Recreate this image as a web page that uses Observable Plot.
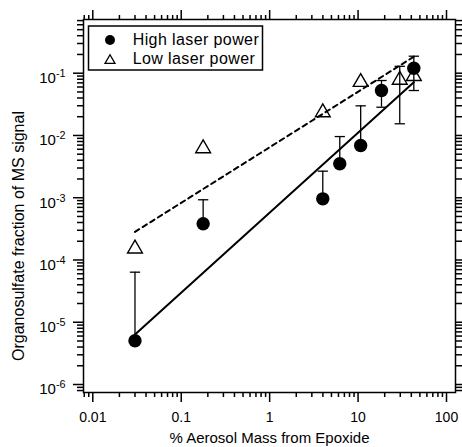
<!DOCTYPE html>
<html><head><meta charset="utf-8">
<script src="https://cdn.jsdelivr.net/npm/d3@7"></script>
<script src="https://cdn.jsdelivr.net/npm/@observablehq/plot@0.6"></script>
<style>body{margin:0;background:#fff;} svg{display:block;}</style>
</head><body><div id="chart"></div>
<script>
// ---- data ----
const seriesNames = ["High laser power", "Low laser power"];

const highX = [0.03, 0.177, 3.99, 6.21, 10.7, 18.4, 42.7];
const highY = [5.03e-6, 3.81e-4, 9.6e-4, 3.51e-3, 6.9e-3, 0.0527, 0.120];
const highErrLo = [5.03e-6, 3.81e-4, 9.6e-4, 3.51e-3, 6.9e-3, 0.0284, 0.0527];
const highErrHi = [6.37e-5, 9.27e-4, 2.67e-3, 9.6e-3, 0.0299, 0.0763, 0.1875];

const lowX = [0.03, 0.177, 3.99, 10.7, 29.6, 42.7];
const lowY = [1.52e-4, 6.19e-3, 0.0234, 0.072, 0.078, 0.0895];
const lowErrX = [29.6];
const lowErrLo = [0.0154];
const lowErrHi = [0.129];

const fitX = [0.03, 42.7];
const fitHighY = [6.35e-6, 0.0717];
const fitLowY = [2.83e-4, 0.184];

const xTickLabels = [0.01, 0.1, 1, 10, 100];
const yTickLabels = [1e-6, 1e-5, 1e-4, 1e-3, 1e-2, 1e-1];
const xTitle = "% Aerosol Mass from Epoxide";
const yTitle = "Organosulfate fraction of MS signal";

// ---- derived tables ----
const high = highX.map((x, i) => ({x, y: highY[i], lo: highErrLo[i], hi: highErrHi[i]}));
const low = lowX.map((x, i) => ({x, y: lowY[i]}));
const lowErr = lowErrX.map((x, i) => ({x, lo: lowErrLo[i], hi: lowErrHi[i]}));
const fitHigh = fitX.map((x, i) => ({x, y: fitHighY[i]}));
const fitLow = fitX.map((x, i) => ({x, y: fitLowY[i]}));
const caps = [...high, ...lowErr].flatMap(d => [{x: d.x, y: d.lo}, {x: d.x, y: d.hi}]);

const xDomain = [0.00785, 126.4];
const yDomain = [7.44e-7, 0.7286];
const minorOf = (majors, lo, hi) => {
  const out = [];
  for (const m of [majors[0] / 10, ...majors]) for (let k = 2; k <= 9; k++) {
    const v = m * k; if (v > lo && v < hi) out.push(v);
  }
  return out;
};
const xMinor = minorOf(xTickLabels, xDomain[0], xDomain[1]);
const yMinor = minorOf(yTickLabels, yDomain[0], yDomain[1]);

const capSymbol = {draw(ctx, size) { const w = Math.sqrt(size); ctx.moveTo(-w, 0); ctx.lineTo(w, 0); }};

const font = "'Liberation Sans', Arial, Helvetica, sans-serif";
const tickOpts = {strokeWidth: 1.5, label: null};

const svg = Plot.plot({
  width: 462, height: 447,
  marginLeft: 83, marginRight: 7, marginTop: 19, marginBottom: 55,
  x: {type: "log", domain: xDomain},
  y: {type: "log", domain: yDomain},
  style: {fontFamily: font, fontSize: "14px", color: "black", background: "white"},
  marks: [
    // ticks (mirrored on all four sides)
    Plot.axisX(xTickLabels, {...tickOpts, anchor: "bottom", tickSize: 10, text: null}),
    Plot.axisX(xMinor, {...tickOpts, anchor: "bottom", tickSize: 5, text: null}),
    Plot.axisX(xTickLabels, {...tickOpts, anchor: "top", tickSize: 10, text: null}),
    Plot.axisX(xMinor, {...tickOpts, anchor: "top", tickSize: 5, text: null}),
    Plot.axisY(yTickLabels, {...tickOpts, anchor: "left", tickSize: 10, text: null}),
    Plot.axisY(yMinor, {...tickOpts, anchor: "left", tickSize: 6, text: null}),
    Plot.axisY(yTickLabels, {...tickOpts, anchor: "right", tickSize: 10, text: null}),
    Plot.axisY(yMinor, {...tickOpts, anchor: "right", tickSize: 6, text: null}),
    // tick labels
    Plot.axisX(xTickLabels, {anchor: "bottom", tickSize: 0, tickPadding: 20, tickFormat: d => String(d), label: null, fontSize: 14}),
    Plot.axisY(yTickLabels, {anchor: "left", tickSize: 0, tickPadding: 18, dy: 5, label: null, fontSize: 15,
      tickFormat: d => "10^" + Math.round(Math.log10(d))}),
    // titles
    Plot.text([xTitle], {frameAnchor: "bottom", dy: 50, fontSize: 15, lineAnchor: "bottom", textAnchor: "middle",
      text: d => d, letterSpacing: "0.8px"}),
    Plot.text([yTitle], {frameAnchor: "left", rotate: -90, dx: -65, dy: 30, fontSize: 16, textAnchor: "middle",
      text: d => d, letterSpacing: "0.8px"}),
    Plot.frame({stroke: "black", strokeWidth: 1.5}),
    // fits
    Plot.line(fitLow, {x: "x", y: "y", stroke: "black", strokeWidth: 2, strokeDasharray: "5,4"}),
    Plot.line(fitHigh, {x: "x", y: "y", stroke: "black", strokeWidth: 2}),
    // error bars
    Plot.ruleX(high, {x: "x", y1: "lo", y2: "hi", stroke: "black", strokeWidth: 1.3}),
    Plot.ruleX(lowErr, {x: "x", y1: "lo", y2: "hi", stroke: "black", strokeWidth: 1.3}),
    Plot.dot(caps, {x: "x", y: "y", symbol: capSymbol, r: 2.9, stroke: "black", strokeWidth: 1.3, fill: "none"}),
    // points
    Plot.dot(low, {x: "x", y: "y", symbol: "triangle", r: 5.5, stroke: "black", strokeWidth: 1.4, fill: "none"}),
    Plot.dot(high, {x: "x", y: "y", r: 6.7, fill: "black", stroke: "none"})
  ]
});

// superscript exponents on y tick labels
const NS = "http://www.w3.org/2000/svg";
svg.querySelectorAll('g[aria-label="y-axis tick label"] text').forEach(t => {
  const parts = t.textContent.split("^");
  if (parts.length < 2) return;
  t.textContent = parts[0];
  const ts = document.createElementNS(NS, "tspan");
  ts.setAttribute("dy", "-0.55em");
  ts.setAttribute("font-size", "0.72em");
  ts.textContent = parts[1];
  t.appendChild(ts);
});

// legend (inside plot area, upper-left)
const g = d3.select(svg).append("g").attr("font-family", font).attr("font-size", 16)
  .attr("text-anchor", "start");
g.append("rect").attr("x", 88.5).attr("y", 26).attr("width", 174).attr("height", 44)
  .attr("fill", "white").attr("stroke", "black").attr("stroke-width", 1.5);
g.append("circle").attr("cx", 110).attr("cy", 40).attr("r", 5).attr("fill", "black");
g.append("path").attr("d", d3.symbol(d3.symbolTriangle, 43)()).attr("transform", "translate(110,60.5)")
  .attr("fill", "none").attr("stroke", "black").attr("stroke-width", 1.3);
seriesNames.forEach((name, i) => {
  g.append("text").attr("x", 132.7).attr("y", 44.5 + i * 19).attr("fill", "black")
    .attr("letter-spacing", "0.4px").text(name);
});

document.getElementById("chart").appendChild(svg);
</script></body></html>
